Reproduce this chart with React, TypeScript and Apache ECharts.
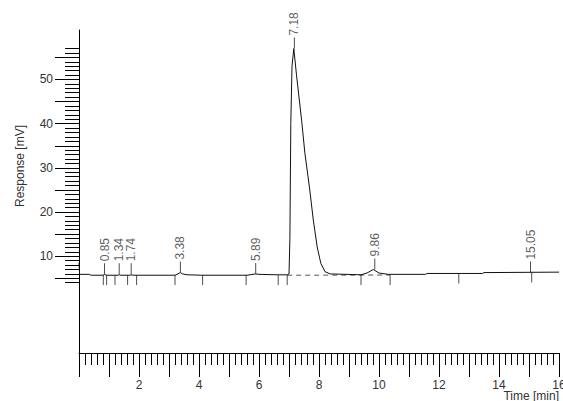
import React, { useEffect, useRef } from "react";
import * as echarts from "echarts";

// Signal trace (time in min, response in mV)
const signalTime = [0.0, 0.02, 0.35, 0.4, 0.8, 0.85, 0.9, 1.3, 1.34, 1.4, 1.7, 1.74, 1.8, 3.2, 3.3, 3.38, 3.45, 3.6, 4.1, 5.6, 5.8, 5.89, 6.0, 6.6, 6.95, 7.0, 7.03, 7.06, 7.1, 7.16, 7.25, 7.42, 7.53, 7.68, 7.81, 7.94, 8.06, 8.2, 8.37, 8.9, 9.4, 9.6, 9.81, 10.0, 10.3, 11.55, 11.6, 13.45, 13.5, 16.0];
const signalResp = [8.5, 5.9, 5.9, 5.7, 5.7, 5.9, 5.7, 5.7, 5.8, 5.7, 5.7, 5.8, 5.7, 5.7, 6.0, 6.3, 6.0, 5.8, 5.7, 5.7, 5.9, 6.0, 5.9, 5.8, 5.8, 6.0, 14.0, 40.0, 53.0, 57.0, 51.0, 40.8, 33.3, 25.7, 18.2, 12.1, 8.4, 6.5, 6.0, 5.9, 5.8, 6.2, 7.0, 6.2, 5.9, 5.9, 6.1, 6.1, 6.3, 6.4];

// Peak apex markers with retention-time labels
const peakTimes = [0.85, 1.34, 1.74, 3.38, 5.89, 7.18, 9.86, 15.05];
const peakApex = [5.9, 5.9, 5.9, 6.3, 6.0, 57.0, 7.0, 6.3];

// Integration markers below the baseline
const markTimes = [0.81, 0.92, 1.2, 1.62, 1.92, 3.2, 4.12, 5.57, 6.64, 6.94, 9.4, 10.37, 12.66, 15.09];
const markResp = [5.75, 5.75, 5.75, 5.75, 5.75, 5.75, 5.75, 5.75, 5.75, 5.75, 5.75, 5.75, 6.1, 6.3];

// Dashed drop baseline under the main peak
const dashTime = [6.94, 10.37];
const dashResp = [5.7, 5.75];

// Y-axis ticks
const yMajorTicks = [5, 10, 15, 20, 25, 30, 35, 40, 45, 50, 55];
const yMinorTicks = [4, 6, 7, 8, 9, 11, 12, 13, 14, 16, 17, 18, 19, 21, 22, 23, 24, 26, 27, 28, 29, 31, 32, 33, 34, 36, 37, 38, 39, 41, 42, 43, 44, 46, 47, 48, 49, 51, 52, 53, 54, 56, 57];
const yLabelTicks = [10, 20, 30, 40, 50];

const FONT = "Arial, 'Liberation Sans', sans-serif";
const TXT = "#333";

export default function App() {
  const ref = useRef<HTMLDivElement>(null);
  useEffect(() => {
    document.body.style.margin = "0";
    const chart = echarts.init(ref.current!, null, { renderer: "svg" });
    const yMin = -11.9;
    const yMax = 61.2;
    chart.setOption({
      animation: false,
      backgroundColor: "#fff",
      grid: { left: 79, right: 4, top: 30, bottom: 48, containLabel: false, outerBoundsMode: "none" },
      xAxis: {
        type: "value",
        min: 0,
        max: 16,
        interval: 1,
        axisLine: { show: true, onZero: false, lineStyle: { color: "#000", width: 1 } },
        axisTick: { show: true, length: 24, lineStyle: { color: "#000" } },
        minorTick: { show: true, splitNumber: 5, length: 12, lineStyle: { color: "#000" } },
        splitLine: { show: false },
        axisLabel: {
          margin: 26,
          color: TXT,
          fontFamily: FONT,
          fontSize: 12,
          hideOverlap: false,
          formatter: (v: number) => (v !== 0 && v % 2 === 0 ? String(v) : ""),
        },
      },
      yAxis: [
        {
          type: "value",
          min: yMin,
          max: yMax,
          position: "left",
          axisLine: { show: true, onZero: false, lineStyle: { color: "#000", width: 1 } },
          axisTick: { show: true, length: 24, customValues: yMajorTicks, lineStyle: { color: "#000" } },
          axisLabel: {
            show: true,
            customValues: yLabelTicks,
            margin: 26,
            color: TXT,
            fontFamily: FONT,
            fontSize: 12,
          },
          splitLine: { show: false },
        },
        {
          type: "value",
          min: yMin,
          max: yMax,
          position: "left",
          offset: 0,
          axisLine: { show: false },
          axisTick: { show: true, length: 14, customValues: yMinorTicks, lineStyle: { color: "#000" } },
          axisLabel: { show: false },
          splitLine: { show: false },
        },
      ],
      graphic: [
        {
          type: "text",
          x: 20,
          y: 166,
          rotation: Math.PI / 2,
          style: {
            text: "Response [mV]",
            fill: TXT,
            font: `12px ${FONT}`,
            align: "center",
            verticalAlign: "middle",
          },
        },
        {
          type: "text",
          right: 4,
          top: 390,
          style: { text: "Time [min]", fill: TXT, font: `12px ${FONT}` },
        },
      ],
      series: [
        {
          type: "line",
          data: dashTime.map((t, i) => [t, dashResp[i]]),
          showSymbol: false,
          silent: true,
          lineStyle: { color: "#555", width: 1, type: [5, 4] },
          z: 1,
        },
        {
          type: "line",
          data: signalTime.map((t, i) => [t, signalResp[i]]),
          showSymbol: false,
          silent: true,
          lineStyle: { color: "#111", width: 1 },
          z: 2,
        },
        {
          type: "scatter",
          data: markTimes.map((t, i) => [t, markResp[i]]),
          symbol: "rect",
          symbolSize: [1, 10],
          symbolOffset: [0, 5],
          silent: true,
          itemStyle: { color: "#222" },
          z: 3,
        },
        {
          type: "scatter",
          data: peakTimes.map((t, i) => [t, peakApex[i]]),
          symbol: "rect",
          symbolSize: [1, 11],
          symbolOffset: [0, -5.5],
          silent: true,
          itemStyle: { color: "#222" },
          label: {
            show: true,
            position: "top",
            distance: 2,
            rotate: 90,
            align: "left",
            verticalAlign: "middle",
            color: TXT,
            fontFamily: FONT,
            fontSize: 12,
            formatter: (p: any) => peakTimes[p.dataIndex].toFixed(2),
          },
          z: 4,
        },
      ],
    });
    return () => chart.dispose();
  }, []);
  return <div ref={ref} style={{ position: "absolute", left: 0, top: 0, width: 563, height: 401 }} />;
}
